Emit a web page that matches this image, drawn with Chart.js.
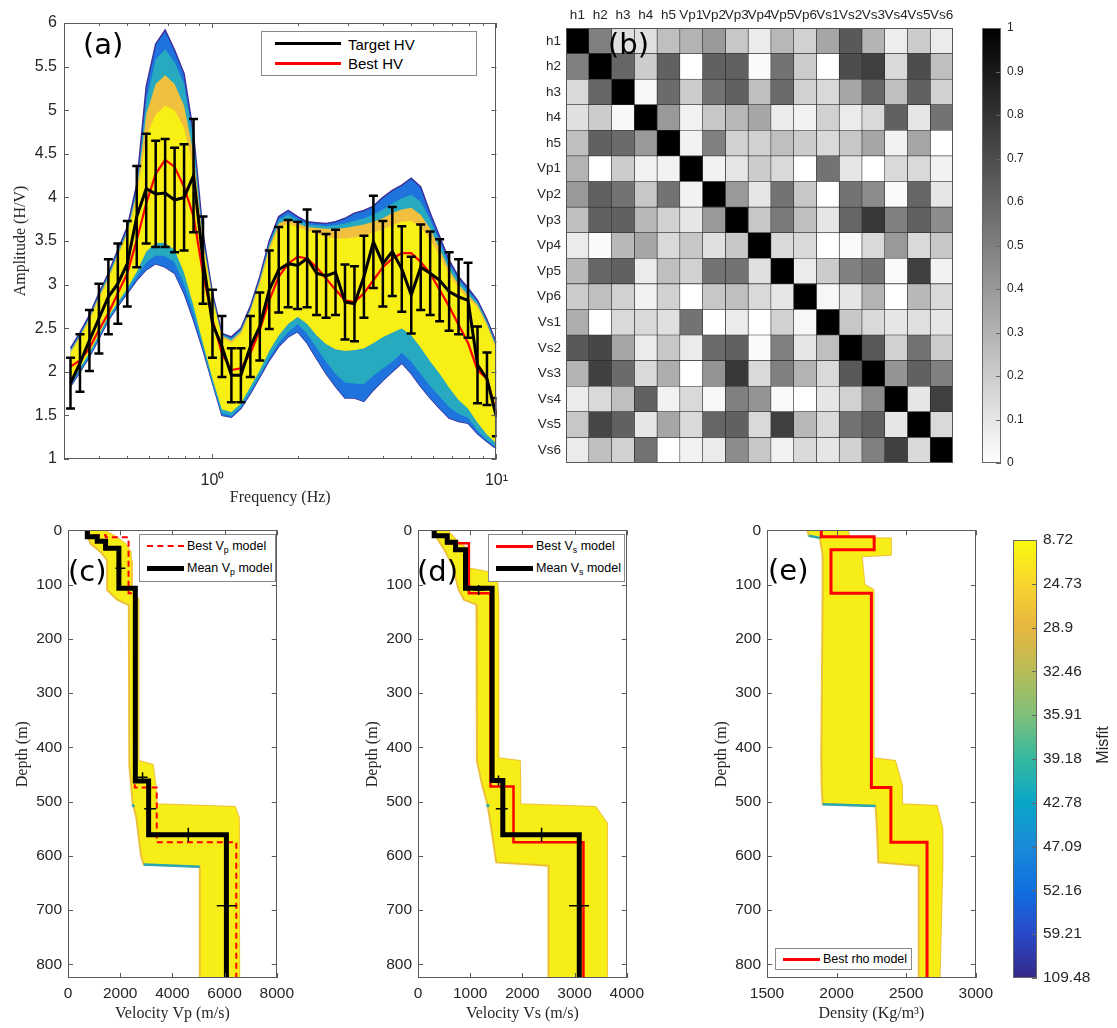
<!DOCTYPE html>
<html>
<head>
<meta charset="utf-8">
<script src="https://cdn.jsdelivr.net/npm/chart.js@4.4.1/dist/chart.umd.min.js"></script>
<style>
  body { margin: 0; background: #fff; width: 1117px; height: 1028px; position: relative; overflow: hidden;
         font-family: "Liberation Sans", Arial, sans-serif; }
  .wrap { position: absolute; }
  .plab { position: absolute; font-family: "DejaVu Sans", sans-serif; font-size: 29px; line-height: 1; color: #000; }
  .legend { position: absolute; background: #fff; border: 1px solid #8a8a8a; box-sizing: border-box; color: #000; }
  .legend .ln { position: absolute; }
  .legend .tx { position: absolute; white-space: nowrap; line-height: 1; }
  .legend sub { font-size: 0.7em; vertical-align: -0.35em; line-height: 0; }
  .rot { position: absolute; transform: rotate(-90deg); transform-origin: center; font-size: 16px; color: #262626; white-space: nowrap; }
</style>
</head>
<body>

<div class="wrap" style="left:0;top:0"><canvas id="hvChart" width="520" height="510"></canvas></div>
<div class="wrap" style="left:530px;top:0"><canvas id="corrChart" width="440" height="480"></canvas></div>
<div class="wrap" style="left:970px;top:0"><canvas id="corrBar" width="80" height="480"></canvas></div>
<div class="wrap" style="left:0;top:515px"><canvas id="vpChart" width="300" height="513"></canvas></div>
<div class="wrap" style="left:350px;top:515px"><canvas id="vsChart" width="300" height="513"></canvas></div>
<div class="wrap" style="left:699px;top:515px"><canvas id="rhoChart" width="300" height="513"></canvas></div>
<div class="wrap" style="left:1000px;top:515px"><canvas id="misfitBar" width="117" height="513"></canvas></div>

<div class="legend" style="left:261px;top:31px;width:216px;height:45px;font-size:15px">
  <div class="ln" style="left:13px;top:10px;width:66px;height:3px;background:#000"></div>
  <div class="tx" style="left:86px;top:5px">Target HV</div>
  <div class="ln" style="left:13px;top:30px;width:66px;height:3px;background:#f00"></div>
  <div class="tx" style="left:86px;top:24px">Best HV</div>
</div>

<div class="legend" style="left:139px;top:534px;width:137px;height:48px;font-size:12.5px">
  <div class="ln" style="left:7px;top:10px;width:37px;border-top:2px dashed #f00"></div>
  <div class="tx" style="left:47px;top:5px">Best V<sub>p</sub> model</div>
  <div class="ln" style="left:7px;top:31px;width:37px;height:5px;background:#000"></div>
  <div class="tx" style="left:47px;top:27px">Mean V<sub>p</sub> model</div>
</div>

<div class="legend" style="left:488px;top:534px;width:137px;height:48px;font-size:12.5px">
  <div class="ln" style="left:7px;top:10px;width:37px;height:3px;background:#f00"></div>
  <div class="tx" style="left:47px;top:5px">Best V<sub>s</sub> model</div>
  <div class="ln" style="left:7px;top:31px;width:37px;height:5px;background:#000"></div>
  <div class="tx" style="left:47px;top:27px">Mean V<sub>s</sub> model</div>
</div>

<div class="legend" style="left:775px;top:948px;width:137px;height:22px;font-size:12.5px">
  <div class="ln" style="left:7px;top:9px;width:37px;height:3px;background:#f00"></div>
  <div class="tx" style="left:47px;top:4px">Best rho model</div>
</div>

<div class="plab" style="left:83px;top:30px">(a)</div>
<div class="plab" style="left:608px;top:30px">(b)</div>
<div class="plab" style="left:68px;top:557px">(c)</div>
<div class="plab" style="left:417px;top:557px">(d)</div>
<div class="plab" style="left:768px;top:556px">(e)</div>
<div class="rot" style="left:1078px;top:736px;width:50px;text-align:center">Misfit</div>

<script>
// ---------- (a) H/V curves ----------
const freqHz = [0.3162, 0.3415, 0.3687, 0.3981, 0.4299, 0.4642, 0.5012, 0.5412, 0.5843, 0.6310,
    0.6813, 0.7356, 0.7943, 0.8577, 0.9261, 1.0, 1.0798, 1.1659, 1.2589, 1.3594,
    1.4678, 1.5849, 1.7113, 1.8478, 1.9953, 2.1544, 2.3263, 2.5119, 2.7123, 2.9286,
    3.1623, 3.4146, 3.6869, 3.9811, 4.2987, 4.6416, 5.0119, 5.4117, 5.8434, 6.3096,
    6.8129, 7.3564, 7.9433, 8.5770, 9.2611, 10.0];
const targetHV = [1.87, 2.1, 2.36, 2.61, 2.86, 3.01, 3.24, 3.78, 4.1, 4.04,
    4.05, 3.97, 4.0, 4.25, 3.28, 2.55, 2.29, 1.96, 1.96, 2.29,
    2.52, 2.94, 3.17, 3.24, 3.22, 3.3, 3.13, 3.1, 3.14, 2.8,
    2.78, 3.09, 3.49, 3.24, 3.38, 3.18, 2.88, 3.2, 3.13, 3.05,
    2.92, 2.86, 2.82, 2.08, 1.92, 1.48];
const targetErr = [0.29, 0.33, 0.35, 0.4, 0.43, 0.46, 0.49, 0.58, 0.63, 0.61,
    0.62, 0.6, 0.61, 0.65, 0.5, 0.39, 0.35, 0.31, 0.31, 0.35,
    0.39, 0.45, 0.49, 0.5, 0.5, 0.56, 0.48, 0.48, 0.49, 0.43,
    0.43, 0.47, 0.53, 0.49, 0.51, 0.49, 0.44, 0.49, 0.48, 0.47,
    0.45, 0.43, 0.43, 0.44, 0.3, 0.22];
const bestHV = [2.06, 2.13, 2.27, 2.48, 2.67, 2.9, 3.13, 3.51, 3.93, 4.27,
    4.43, 4.35, 4.12, 3.78, 3.13, 2.6, 2.21, 2.02, 2.04, 2.21,
    2.48, 2.82, 3.09, 3.24, 3.32, 3.3, 3.2, 3.07, 2.94, 2.82,
    2.8, 2.9, 3.05, 3.2, 3.3, 3.36, 3.36, 3.26, 3.13, 2.94,
    2.75, 2.54, 2.33, 2.02, 1.92, 1.52];
// envelopes of the model ensemble, from worst fit (outer) to best fit (core)
const envOuterUp = [2.27, 2.45, 2.65, 2.9, 3.13, 3.4, 3.66, 4.15, 5.27, 5.76,
    5.92, 5.69, 5.42, 4.73, 3.59, 2.9, 2.44, 2.4, 2.5, 2.75,
    3.09, 3.5, 3.78, 3.85, 3.78, 3.72, 3.71, 3.7, 3.72, 3.76,
    3.82, 3.85, 3.9, 4.0, 4.08, 4.14, 4.22, 4.12, 3.82, 3.55,
    3.28, 3.09, 2.96, 2.82, 2.6, 2.33];
const envOuterLo = [1.83, 2.0, 2.17, 2.38, 2.59, 2.75, 2.9, 3.05, 3.17, 3.24,
    3.2, 3.13, 2.9, 2.59, 2.25, 1.87, 1.5, 1.48, 1.58, 1.75,
    1.94, 2.13, 2.29, 2.4, 2.46, 2.33, 2.15, 1.98, 1.83, 1.7,
    1.7, 1.66, 1.79, 1.9, 2.0, 2.1, 1.98, 1.83, 1.7, 1.58,
    1.47, 1.43, 1.41, 1.29, 1.2, 1.12];
const envMidUp = [2.25, 2.43, 2.63, 2.88, 3.11, 3.38, 3.63, 4.1, 5.1, 5.58,
    5.7, 5.55, 5.3, 4.65, 3.55, 2.88, 2.43, 2.38, 2.48, 2.73,
    3.07, 3.47, 3.74, 3.8, 3.74, 3.69, 3.68, 3.67, 3.68, 3.7,
    3.73, 3.76, 3.8, 3.86, 3.93, 3.99, 4.03, 3.95, 3.74, 3.49,
    3.23, 3.05, 2.92, 2.8, 2.58, 2.31];
const envMidLo = [1.85, 2.02, 2.19, 2.4, 2.61, 2.77, 2.93, 3.1, 3.26, 3.34,
    3.33, 3.26, 3.02, 2.68, 2.29, 1.89, 1.53, 1.5, 1.6, 1.78,
    1.97, 2.17, 2.34, 2.46, 2.55, 2.44, 2.28, 2.12, 1.98, 1.88,
    1.87, 1.86, 1.96, 2.04, 2.12, 2.22, 2.12, 1.98, 1.84, 1.72,
    1.6, 1.52, 1.48, 1.33, 1.22, 1.14];
const envOrangeUp = [2.23, 2.41, 2.61, 2.86, 3.08, 3.35, 3.6, 4.05, 4.95, 5.3,
    5.4, 5.3, 5.05, 4.5, 3.5, 2.85, 2.41, 2.36, 2.46, 2.71,
    3.04, 3.43, 3.7, 3.75, 3.7, 3.66, 3.65, 3.64, 3.64, 3.65,
    3.67, 3.69, 3.72, 3.76, 3.82, 3.86, 3.88, 3.8, 3.64, 3.41,
    3.17, 3.0, 2.88, 2.77, 2.55, 2.28];
const envCoreUp = [2.21, 2.39, 2.58, 2.83, 3.05, 3.32, 3.57, 3.98, 4.7, 4.95,
    5.05, 5.0, 4.8, 4.32, 3.45, 2.82, 2.39, 2.33, 2.43, 2.68,
    3.0, 3.38, 3.65, 3.7, 3.66, 3.62, 3.58, 3.55, 3.53, 3.53,
    3.54, 3.56, 3.6, 3.63, 3.68, 3.72, 3.73, 3.66, 3.52, 3.33,
    3.12, 2.96, 2.84, 2.74, 2.52, 2.26];
const envCoreLo = [1.88, 2.05, 2.22, 2.43, 2.64, 2.8, 2.96, 3.15, 3.38, 3.48,
    3.48, 3.4, 3.14, 2.76, 2.33, 1.93, 1.57, 1.54, 1.64, 1.83,
    2.02, 2.24, 2.42, 2.55, 2.63, 2.55, 2.42, 2.32, 2.26, 2.24,
    2.25, 2.27, 2.33, 2.4, 2.45, 2.5, 2.42, 2.28, 2.12, 1.98,
    1.82, 1.68, 1.58, 1.42, 1.28, 1.18];
const freqTicks = [0.4, 0.5, 0.6, 0.7, 0.8, 0.9, 1, 2, 3, 4, 5, 6, 7, 8, 9, 10];

// ---------- (b) correlation matrix ----------
const paramNames = ['h1', 'h2', 'h3', 'h4', 'h5', 'Vp1', 'Vp2', 'Vp3', 'Vp4', 'Vp5', 'Vp6',
    'Vs1', 'Vs2', 'Vs3', 'Vs4', 'Vs5', 'Vs6'];
const corrMatrix = [
    [1, 0.5, 0.12, 0.12, 0.25, 0.3, 0.4, 0.22, 0.08, 0.28, 0.18, 0.35, 0.65, 0.3, 0.07, 0.2, 0.08],
    [0.5, 1, 0.6, 0.2, 0.62, 0, 0.62, 0.62, 0.02, 0.55, 0.2, 0, 0.7, 0.75, 0.15, 0.7, 0.25],
    [0.15, 0.6, 1, 0.03, 0.58, 0.2, 0.55, 0.62, 0.25, 0.58, 0.18, 0.15, 0.35, 0.6, 0.25, 0.62, 0.18],
    [0.12, 0.2, 0.03, 1, 0.4, 0.05, 0.22, 0.28, 0.35, 0.08, 0.05, 0.18, 0.08, 0.15, 0.62, 0.1, 0.55],
    [0.25, 0.62, 0.58, 0.4, 1, 0.05, 0.5, 0.18, 0.18, 0.25, 0.2, 0.15, 0.22, 0.35, 0.05, 0.35, 0],
    [0.3, 0, 0.2, 0.05, 0.05, 1, 0.05, 0.1, 0.2, 0.15, 0, 0.55, 0.1, 0, 0.15, 0.15, 0.05],
    [0.4, 0.62, 0.55, 0.22, 0.55, 0.05, 1, 0.4, 0.1, 0.55, 0.22, 0, 0.55, 0.45, 0.02, 0.6, 0.1],
    [0.25, 0.62, 0.62, 0.28, 0.18, 0.1, 0.4, 1, 0.22, 0.52, 0.25, 0.1, 0.6, 0.78, 0.5, 0.62, 0.45],
    [0.08, 0.02, 0.28, 0.35, 0.15, 0.22, 0.12, 0.22, 1, 0.15, 0.15, 0, 0.02, 0.15, 0.4, 0.15, 0.22],
    [0.28, 0.6, 0.62, 0.08, 0.25, 0.18, 0.55, 0.55, 0.12, 1, 0.08, 0.2, 0.5, 0.55, 0.02, 0.75, 0.05],
    [0.2, 0.25, 0.18, 0.05, 0.18, 0, 0.22, 0.25, 0.15, 0.1, 1, 0.03, 0.1, 0.3, 0, 0.28, 0.15],
    [0.32, 0, 0.15, 0.15, 0.12, 0.55, 0, 0.08, 0, 0.18, 0.03, 1, 0.22, 0.15, 0.1, 0.12, 0.1],
    [0.65, 0.72, 0.35, 0.08, 0.22, 0.08, 0.58, 0.62, 0.02, 0.5, 0.1, 0.25, 1, 0.65, 0.18, 0.55, 0.2],
    [0.3, 0.75, 0.58, 0.15, 0.32, 0, 0.42, 0.78, 0.15, 0.5, 0.3, 0.15, 0.65, 1, 0.42, 0.62, 0.5],
    [0.08, 0.15, 0.25, 0.62, 0.05, 0.15, 0.03, 0.5, 0.42, 0.02, 0, 0.1, 0.18, 0.45, 1, 0.1, 0.75],
    [0.22, 0.72, 0.62, 0.1, 0.35, 0.15, 0.6, 0.62, 0.15, 0.75, 0.28, 0.15, 0.55, 0.62, 0.1, 1, 0.15],
    [0.08, 0.25, 0.18, 0.55, 0, 0.05, 0.08, 0.45, 0.22, 0.05, 0.15, 0.1, 0.18, 0.5, 0.75, 0.15, 1]
];

// ---------- (c)-(e) depth profiles ----------
const maxDepth = 825;
const vpMeanTop = [0, 12, 20, 33, 107, 462, 561];
const vpMean = [740, 1120, 1440, 1950, 2580, 3090, 6070];
const vpBestTop = [0, 9, 13, 116, 474, 575];
const vpBest = [800, 1450, 2320, 2560, 3400, 6450];
const vpCrossV = [2007, 2857, 3150, 4610, 6084];
const vpCrossD = [70, 455, 513, 561, 692];
const vpBandDepth = [0, 10, 25, 40, 55, 110, 128, 138, 425, 432, 470, 505, 510, 530, 600, 616, 620, 825];
const vpBandLeft = [670, 750, 870, 1250, 1500, 1500, 1880, 2330, 2350, 2350, 2420, 2480, 2520, 2620, 2800, 2900, 5050, 5050];
const vpBandRight = [1370, 1750, 2200, 2400, 2420, 2450, 2700, 2700, 2700, 3250, 3350, 3400, 6400, 6550, 6550, 6550, 6550, 6560];

const vsMeanTop = [0, 10, 22, 36, 107, 461, 561];
const vsMean = [310, 560, 720, 910, 1420, 1625, 3090];
const vsBestTop = [0, 10, 24, 116, 472, 575];
const vsBest = [330, 560, 975, 1390, 1830, 3170];
const vsCrossV = [1162, 1543, 1606, 2368, 3086];
const vsCrossD = [110, 461, 513, 561, 692];
const vsBandDepth = [0, 20, 35, 70, 80, 110, 128, 137, 420, 425, 470, 505, 510, 540, 612, 618, 825];
const vsBandLeft = [270, 400, 500, 690, 700, 780, 880, 1120, 1130, 1130, 1230, 1330, 1340, 1390, 1500, 2500, 2500];
const vsBandRight = [560, 750, 950, 950, 1500, 1530, 1540, 1540, 1540, 1950, 1960, 1960, 3400, 3620, 3620, 3620, 3620];

const rhoBestTop = [0, 12, 36, 116, 474, 575];
const rhoBest = [1890, 2270, 1960, 2250, 2390, 2650];
const rhoBandDepth = [0, 10, 14, 15, 45, 48, 100, 110, 420, 425, 470, 505, 508, 550, 612, 618, 825];
const rhoBandLeft = [1790, 1800, 1880, 1880, 1900, 1900, 1900, 1900, 1890, 1890, 1895, 1900, 2280, 2290, 2300, 2590, 2590];
const rhoBandRight = [2080, 2090, 2090, 2390, 2390, 2180, 2200, 2265, 2265, 2420, 2470, 2470, 2720, 2760, 2760, 2760, 2740];

const misfitLabels = ['8.72', '24.73', '28.9', '32.46', '35.91', '39.18', '42.78', '47.09', '52.16', '59.21', '109.48'];

// ---------- helpers ----------
Chart.defaults.font.family = '"Liberation Sans", Arial, sans-serif';
Chart.defaults.font.size = 15.5;
Chart.defaults.color = '#262626';
Chart.defaults.animation = false;

const serif = { family: '"Liberation Serif", "Times New Roman", serif', size: 16 };
const parula = ['#352a87', '#2a48c9', '#0f6fe0', '#1a8ad8', '#0aa6c8', '#35b8a0', '#7ec07a', '#b8bd58', '#e6b640', '#f8d52e', '#f9fb0e'];
const plainNum = v => String(Math.round(v * 1000) / 1000);

function pairs(xs, ys) {
    return xs.map((x, i) => ({ x: x, y: ys[i] }));
}

function stepLine(tops, vals) {
    const pts = [];
    tops.forEach((t, i) => {
        const bottom = i + 1 < tops.length ? tops[i + 1] : maxDepth;
        pts.push({ x: vals[i], y: t }, { x: vals[i], y: bottom });
    });
    return pts;
}

// MATLAB style box with inward ticks
const framePlugin = {
    id: 'frame',
    afterDatasetsDraw(chart, args, opts) {
        if (!opts.show) return;
        const { ctx, chartArea: a } = chart;
        ctx.save();
        ctx.strokeStyle = opts.color || '#5a5a5a';
        ctx.lineWidth = 1;
        ctx.strokeRect(Math.round(a.left) + 0.5, Math.round(a.top) + 0.5, Math.round(a.width) - 1, Math.round(a.height) - 1);
        if (opts.ticks !== false) {
            Object.values(chart.scales).forEach(s => {
                if (!s.options.display) return;
                s.ticks.forEach(t => {
                    const p = Math.round(s.getPixelForValue(t.value)) + 0.5;
                    const len = t.label === '' ? 3 : 5;
                    ctx.beginPath();
                    if (s.isHorizontal()) {
                        ctx.moveTo(p, a.bottom); ctx.lineTo(p, a.bottom - len);
                        ctx.moveTo(p, a.top); ctx.lineTo(p, a.top + len);
                    } else {
                        if (!opts.rightOnly) { ctx.moveTo(a.left, p); ctx.lineTo(a.left + len, p); }
                        ctx.moveTo(a.right, p); ctx.lineTo(a.right - len, p);
                    }
                    ctx.stroke();
                });
            });
        }
        ctx.restore();
    }
};
Chart.register(framePlugin);

const noGrid = { display: false, drawTicks: false };
const noBorder = { display: false };

// ---------- (a) ----------
const errData = [];
freqHz.forEach((f, i) => {
    errData.push({ x: f, y: targetHV[i] - targetErr[i] }, { x: f, y: targetHV[i] + targetErr[i] }, { x: f, y: null });
});

function envLine(values, color, fill, border, width) {
    return {
        data: pairs(freqHz, values), borderColor: border || 'rgba(0,0,0,0)', borderWidth: width || 0,
        backgroundColor: color, fill: fill, pointRadius: 0
    };
}

new Chart(document.getElementById('hvChart'), {
    type: 'line',
    data: {
        datasets: [
            { data: errData, borderColor: '#000', borderWidth: 2.5, pointStyle: 'line', pointRadius: 4.5,
              pointBorderWidth: 2.5, pointBorderColor: '#000', spanGaps: false, fill: false },
            { data: pairs(freqHz, targetHV), borderColor: '#000', borderWidth: 3, pointRadius: 0, fill: false },
            { data: pairs(freqHz, bestHV), borderColor: '#ff0000', borderWidth: 2.2, pointRadius: 0, fill: false },
            envLine(envCoreUp, '#f8ef15', '+1'),
            envLine(envCoreLo, 'rgba(0,0,0,0)', false),
            envLine(envOrangeUp, '#f1c03e', 4),
            envLine(envMidUp, '#27aac0', '+1'),
            envLine(envMidLo, 'rgba(0,0,0,0)', false, '#1f9fd0', 1),
            envLine(envOuterUp, '#1e74dc', '+1', '#3a2f9c', 1.5),
            envLine(envOuterLo, 'rgba(0,0,0,0)', false, '#3a2f9c', 1.5)
        ]
    },
    options: {
        responsive: false,
        layout: { padding: { top: 23, right: 18, left: 0, bottom: 0 } },
        scales: {
            x: {
                type: 'logarithmic', min: 0.3162, max: 10,
                afterBuildTicks: s => { s.ticks = freqTicks.map(v => ({ value: v })); },
                ticks: {
                    autoSkip: false, maxRotation: 0, padding: 12, font: { size: 16 },
                    callback: v => (v === 1 ? '10\u2070' : v === 10 ? '10\u00b9' : '')
                },
                grid: noGrid, border: noBorder,
                title: { display: true, text: 'Frequency (Hz)', font: serif, color: '#262626', padding: { top: 0, bottom: 3 } },
                afterFit: s => { s.height = 51; }
            },
            y: {
                type: 'linear', min: 1, max: 6,
                ticks: { stepSize: 0.5, padding: 7, font: { size: 16 }, callback: plainNum },
                grid: noGrid, border: noBorder,
                title: { display: true, text: 'Amplitude (H/V)', font: serif, color: '#262626', padding: { top: 11, bottom: 0 } },
                afterFit: s => { s.width = 64; }
            }
        },
        plugins: { legend: { display: false }, tooltip: { enabled: false }, frame: { show: true } }
    }
});

// ---------- (b) ----------
function grey(v) {
    const g = Math.round(255 * (1 - v));
    return `rgb(${g},${g},${g})`;
}

new Chart(document.getElementById('corrChart'), {
    type: 'bar',
    data: {
        labels: paramNames,
        datasets: paramNames.map((name, j) => ({
            label: name,
            data: paramNames.map(() => 1),
            backgroundColor: corrMatrix.map(row => grey(row[j])),
            borderColor: '#2a2a2a', borderWidth: 0.6, borderSkipped: false,
            barPercentage: 1, categoryPercentage: 1
        }))
    },
    options: {
        responsive: false, indexAxis: 'y',
        layout: { padding: { top: 0, right: 17, left: 0, bottom: 17 } },
        scales: {
            x: {
                type: 'linear', position: 'top', stacked: true, min: 0, max: paramNames.length,
                afterBuildTicks: s => { s.ticks = paramNames.map((n, i) => ({ value: i + 0.5 })); },
                ticks: { autoSkip: false, maxRotation: 0, padding: 5, font: { size: 13.5 },
                         callback: v => paramNames[Math.floor(v)] },
                grid: noGrid, border: noBorder,
                afterFit: s => { s.height = 28; }
            },
            y: {
                stacked: true,
                ticks: { padding: 5, font: { size: 13.5 } },
                grid: noGrid, border: noBorder,
                afterFit: s => { s.width = 36; }
            }
        },
        plugins: { legend: { display: false }, tooltip: { enabled: false }, frame: { show: true, ticks: false, color: '#555' } }
    }
});

function colorbar(id, maxVal, stops, yOpts, padding, axisWidth) {
    return new Chart(document.getElementById(id), {
        type: 'bar',
        data: {
            labels: [''],
            datasets: [{
                data: [[0, maxVal]],
                backgroundColor: c => {
                    const a = c.chart.chartArea;
                    if (!a) return stops[0];
                    const g = c.chart.ctx.createLinearGradient(0, a.bottom, 0, a.top);
                    stops.forEach((col, i) => g.addColorStop(i / (stops.length - 1), col));
                    return g;
                },
                borderWidth: 0, barPercentage: 1, categoryPercentage: 1
            }]
        },
        options: {
            responsive: false,
            layout: { padding: padding },
            scales: {
                x: { display: false },
                y: Object.assign({
                    position: 'right', min: 0, max: maxVal,
                    grid: noGrid, border: noBorder,
                    afterFit: s => { s.width = axisWidth; }
                }, yOpts)
            },
            plugins: { legend: { display: false }, tooltip: { enabled: false }, frame: { show: true, rightOnly: true, color: '#666' } }
        }
    });
}

colorbar('corrBar', 1, ['#ffffff', '#000000'],
    { ticks: { stepSize: 0.1, padding: 6, font: { size: 12 }, callback: plainNum } },
    { top: 28, left: 12, bottom: 17, right: 0 }, 49);

colorbar('misfitBar', 10, parula,
    { ticks: { stepSize: 1, padding: 6, font: { size: 15.5 }, callback: v => misfitLabels[10 - v] } },
    { top: 25, left: 13, bottom: 50, right: 0 }, 80);

// ---------- (c), (d), (e) ----------
function profileChart(id, cfg) {
    const datasets = [];
    if (cfg.crossV) {
        datasets.push({ data: pairs(cfg.crossV, cfg.crossD), showLine: false, pointStyle: 'cross',
            pointRadius: [5, 5, 6, 7, 10], pointBorderWidth: 1.5, pointBorderColor: '#000' });
    }
    if (cfg.meanTop) {
        datasets.push({ data: stepLine(cfg.meanTop, cfg.mean), borderColor: '#000', borderWidth: 5,
            pointRadius: 0, fill: false, borderJoinStyle: 'miter' });
    }
    datasets.push({ data: stepLine(cfg.bestTop, cfg.best), borderColor: '#ff0000', borderWidth: cfg.bestWidth,
        borderDash: cfg.bestDash || [], pointRadius: 0, fill: false });
    // teal bottom edges of the ensemble band
    datasets.push({ data: pairs(cfg.bandLeft, cfg.bandDepth), borderWidth: 2.5, pointRadius: 0, fill: false,
        borderColor: 'rgba(0,0,0,0)',
        segment: { borderColor: c => (Math.abs(c.p0.parsed.y - c.p1.parsed.y) < 6 && c.p1.parsed.x > c.p0.parsed.x ? '#2aa7b2' : 'rgba(0,0,0,0)') } });
    datasets.push({ data: pairs(cfg.bandLeft, cfg.bandDepth), borderColor: '#edc03a', borderWidth: 2,
        backgroundColor: '#f7ee17', fill: '+1', pointRadius: 0 });
    datasets.push({ data: pairs(cfg.bandRight, cfg.bandDepth), borderColor: '#eec23b', borderWidth: 2,
        pointRadius: 0, fill: false });

    return new Chart(document.getElementById(id), {
        type: 'line',
        data: { datasets },
        options: {
            responsive: false, indexAxis: 'y',
            layout: { padding: { top: 14, right: 22, left: 0, bottom: 0 } },
            scales: {
                x: {
                    type: 'linear', min: cfg.xMin, max: cfg.xMax,
                    ticks: { stepSize: cfg.xStep, padding: 6, callback: plainNum },
                    grid: noGrid, border: noBorder,
                    title: { display: true, text: cfg.xTitle, font: serif, color: '#262626', padding: { top: 0, bottom: 5 } },
                    afterFit: s => { s.height = 50; }
                },
                y: {
                    type: 'linear', reverse: true, min: 0, max: maxDepth,
                    ticks: { stepSize: 100, includeBounds: false, padding: 6, callback: plainNum },
                    grid: noGrid, border: noBorder,
                    title: { display: true, text: 'Depth (m)', font: serif, color: '#262626', padding: { top: 13, bottom: 0 } },
                    afterFit: s => { s.width = 68; }
                }
            },
            plugins: { legend: { display: false }, tooltip: { enabled: false }, frame: { show: true } }
        }
    });
}

profileChart('vpChart', {
    xMin: 0, xMax: 8000, xStep: 2000, xTitle: 'Velocity Vp (m/s)',
    meanTop: vpMeanTop, mean: vpMean, bestTop: vpBestTop, best: vpBest, bestWidth: 2, bestDash: [6, 4],
    crossV: vpCrossV, crossD: vpCrossD,
    bandDepth: vpBandDepth, bandLeft: vpBandLeft, bandRight: vpBandRight
});

profileChart('vsChart', {
    xMin: 0, xMax: 4000, xStep: 1000, xTitle: 'Velocity Vs (m/s)',
    meanTop: vsMeanTop, mean: vsMean, bestTop: vsBestTop, best: vsBest, bestWidth: 2.5,
    crossV: vsCrossV, crossD: vsCrossD,
    bandDepth: vsBandDepth, bandLeft: vsBandLeft, bandRight: vsBandRight
});

profileChart('rhoChart', {
    xMin: 1500, xMax: 3000, xStep: 500, xTitle: 'Density (Kg/m\u00b3)',
    bestTop: rhoBestTop, best: rhoBest, bestWidth: 3,
    bandDepth: rhoBandDepth, bandLeft: rhoBandLeft, bandRight: rhoBandRight
});
</script>
</body>
</html>
